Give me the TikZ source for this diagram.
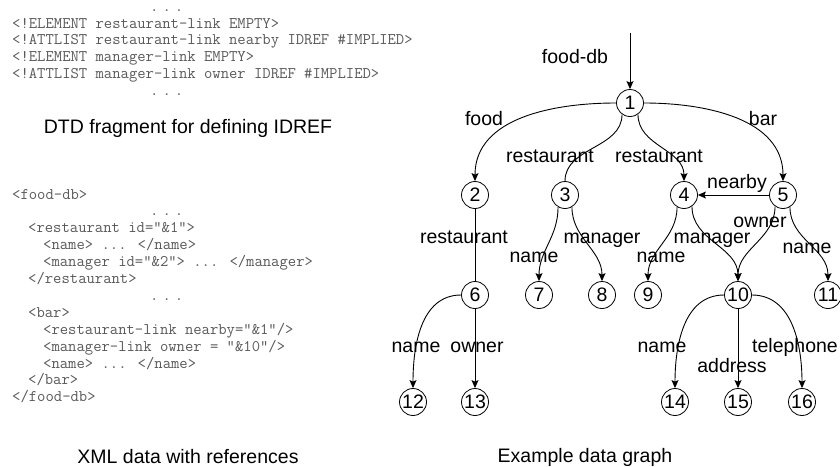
\documentclass[tikz,border=0pt]{standalone}
\usepackage{fontspec}
\setmainfont{Liberation Sans}
\usetikzlibrary{arrows.meta}

\newcommand{\graphfont}{\fontsize{19.5}{23}\selectfont}
\newcommand{\codefont}{\ttfamily\fontsize{16.2}{17}\selectfont}
\newcommand{\elide}{.\kern4pt.\kern4pt.}

\tikzset{
  vertex/.style={circle, draw, line width=0.8pt, minimum size=27pt, inner sep=0pt, font=\graphfont},
  edgelabel/.style={font=\graphfont, anchor=base, inner sep=0pt},
  caption/.style={font=\graphfont, anchor=base, inner sep=0pt},
  codeline/.style={font=\codefont, anchor=base west, inner sep=0pt, text=black!65},
  link/.style={line width=0.9pt, -{Stealth[length=8pt,width=7pt,inset=1.5pt]}},
  plainlink/.style={line width=0.9pt},
}

\begin{document}
\begin{tikzpicture}[x=1pt, y=1pt]
\useasboundingbox (0,0) rectangle (840,-466);

% DTD fragment
\node[codeline] (d0) at (150,-11.5) {\elide};
\node[codeline] (d1) at (12,-28.2) {<!ELEMENT restaurant-link EMPTY>};
\node[codeline] (d2) at (12,-44.9) {<!ATTLIST restaurant-link nearby IDREF \#IMPLIED>};
\node[codeline] (d3) at (12,-61.6) {<!ELEMENT manager-link EMPTY>};
\node[codeline] (d4) at (12,-78.3) {<!ATTLIST manager-link owner IDREF \#IMPLIED>};
\node[codeline] (d5) at (150,-95) {\elide};
\node[caption] (dtdcap) at (188,-133) {DTD fragment for defining IDREF};

% XML data
\node[codeline] (x0) at (12,-199) {<food-db>};
\node[codeline] (x1) at (150,-215.9) {\elide};
\node[codeline] (x2) at (28,-232.8) {<restaurant id="\&1">};
\node[codeline] (x3) at (43,-249.7) {<name> ... </name>};
\node[codeline] (x4) at (43,-266.6) {<manager id="\&2"> ... </manager>};
\node[codeline] (x5) at (28,-283.5) {</restaurant>};
\node[codeline] (x6) at (150,-300.4) {\elide};
\node[codeline] (x7) at (28,-317.3) {<bar>};
\node[codeline] (x8) at (43,-334.2) {<restaurant-link nearby="\&1"/>};
\node[codeline] (x9) at (43,-351.1) {<manager-link owner = "\&10"/>};
\node[codeline] (x10) at (43,-368) {<name> ... </name>};
\node[codeline] (x11) at (28,-384.9) {</bar>};
\node[codeline] (x12) at (12,-401.8) {</food-db>};
\node[caption] (xmlcap) at (188,-463) {XML data with references};

% data graph
\node[vertex] (n1) at (630,-103) {1};
\node[vertex] (n2) at (475,-195) {2};
\node[vertex] (n3) at (565,-195) {3};
\node[vertex] (n4) at (684,-195) {4};
\node[vertex] (n5) at (783,-195) {5};
\node[vertex] (n6) at (475,-295) {6};
\node[vertex] (n7) at (539,-295) {7};
\node[vertex] (n8) at (602,-295) {8};
\node[vertex] (n9) at (648,-295) {9};
\node[vertex] (n10) at (738,-295) {10};
\node[vertex] (n11) at (828,-295) {11};
\node[vertex] (n12) at (413,-402) {12};
\node[vertex] (n13) at (475,-402) {13};
\node[vertex] (n14) at (675,-402) {14};
\node[vertex] (n15) at (738,-402) {15};
\node[vertex] (n16) at (802,-402) {16};

\coordinate (entry) at (630,-33);
\draw[link] (entry) -- (n1);
\draw[link] (n1.west) to[out=180,in=90] (n2.north);
\draw[plainlink] (n1.-125) to[out=-90,in=90] (n3.north);
\draw[link] (n1.-55) to[out=-90,in=90] (n4.north);
\draw[link] (n1.east) to[out=0,in=90] (n5.north);
\draw[link] (n5) -- (n4);
\draw[plainlink] (n2) -- (n6);
\draw[link] (n3.-120) to[out=-90,in=90] (n7.north);
\draw[link] (n3.-60) to[out=-90,in=90] (n8.north);
\draw[link] (n4.-120) to[out=-90,in=90] (n9.north);
\draw[link] (n4.-55) to[out=-90,in=90] (n10.north);
\draw[link] (n5.-125) to[out=-90,in=90] (n10.north);
\draw[link] (n5.-60) to[out=-90,in=90] (n11.north);
\draw[link] (n6.west) to[out=180,in=90] (n12.north);
\draw[link] (n6) -- (n13);
\draw[link] (n10.west) to[out=180,in=90] (n14.north);
\draw[link] (n10) -- (n15);
\draw[link] (n10.east) to[out=0,in=90] (n16.north);

% edge labels
\node[edgelabel] (lroot) at (575,-63) {food-db};
\node[edgelabel] (lfood) at (484,-125) {food};
\node[edgelabel] (lbar) at (763,-125) {bar};
\node[edgelabel] (lrest1) at (550,-162) {restaurant};
\node[edgelabel] (lrest2) at (659,-162) {restaurant};
\node[edgelabel] (lnear) at (737,-188) {nearby};
\node[edgelabel] (lrest3) at (464,-243) {restaurant};
\node[edgelabel] (lown1) at (760,-227) {owner};
\node[edgelabel] (lman1) at (602,-243) {manager};
\node[edgelabel] (lman2) at (712,-243) {manager};
\node[edgelabel] (lname1) at (534,-262) {name};
\node[edgelabel] (lname2) at (661,-262) {name};
\node[edgelabel] (lname3) at (807,-253) {name};
\node[edgelabel] (lname4) at (416,-352) {name};
\node[edgelabel] (lown2) at (477,-352) {owner};
\node[edgelabel] (lname5) at (662,-352) {name};
\node[edgelabel] (laddr) at (732,-372) {address};
\node[edgelabel] (ltel) at (795,-352) {telephone};
\node[caption] (graphcap) at (585,-462) {Example data graph};
\end{tikzpicture}
\end{document}
